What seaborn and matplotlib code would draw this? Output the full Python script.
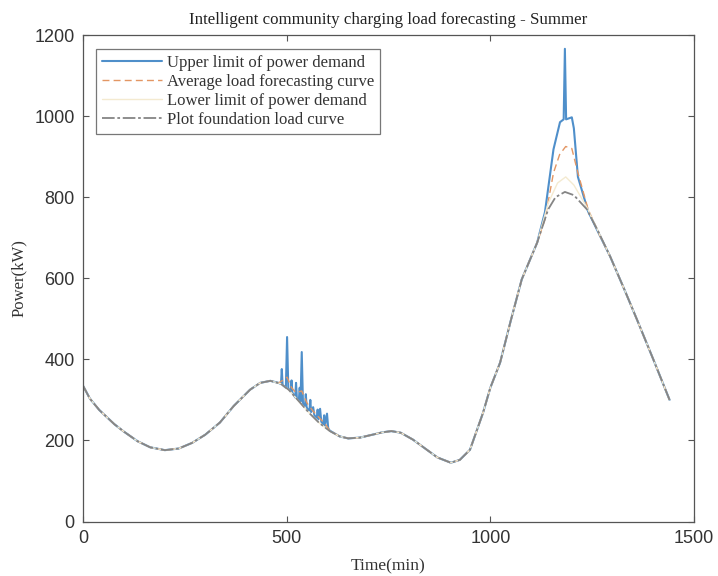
import numpy as np
import pandas as pd
import matplotlib
matplotlib.use("Agg")
import matplotlib.pyplot as plt
import seaborn as sns

# Foundation (base) load curve, minutes -> kW
base_t = [0, 17, 40, 77, 100, 134, 165, 201, 235, 268, 300, 336, 370, 385, 410,
          435, 460, 485, 505, 527, 555, 580, 606, 630, 651, 680, 710, 735, 757,
          780, 810, 840, 870, 903, 925, 950, 982, 1000, 1024, 1050, 1077, 1115,
          1142, 1160, 1183, 1205, 1237, 1265, 1294, 1330, 1360, 1400, 1420, 1440]
base_kw = [335, 303, 275, 240, 222, 198, 183, 176, 180, 194, 214, 244, 285, 300, 325,
           342, 347, 340, 325, 300, 268, 243, 223, 210, 205, 207, 214, 220, 223,
           219, 202, 180, 158, 145, 152, 177, 268, 330, 392, 495, 597, 688,
           770, 800, 813, 805, 770, 715, 654, 570, 498, 400, 350, 300]

# Upper limit of power demand where it departs from the foundation curve
upper_am_t = [480, 486, 488, 490, 498, 501, 504, 510, 512, 514, 521, 523, 525,
              530, 532, 534, 537, 540, 545, 547, 549, 551, 556, 558, 560, 565,
              568, 574, 576, 578, 582, 585, 590, 592, 594, 599, 602, 606]
upper_am_kw = [342, 339, 376, 337, 330, 455, 328, 322, 348, 318, 306, 342, 304,
               300, 330, 296, 418, 292, 286, 314, 282, 278, 274, 300, 270, 282,
               262, 256, 276, 252, 278, 246, 240, 262, 236, 266, 230, 224]
upper_pk_t = [1115, 1134, 1155, 1171, 1180, 1183, 1186, 1200, 1205, 1215,
              1240, 1269, 1294]
upper_pk_kw = [688, 763, 918, 985, 992, 1166, 992, 997, 970, 850,
               765, 705, 654]

# Average load forecast where it departs from the foundation curve
avg_am_t = [480, 490, 501, 512, 523, 537, 550, 565, 580, 595, 606]
avg_am_kw = [342, 348, 356, 330, 318, 322, 292, 272, 256, 240, 224]
avg_pk_t = [1115, 1134, 1155, 1170, 1185, 1200, 1215, 1240, 1269, 1294]
avg_pk_kw = [688, 745, 860, 905, 925, 920, 860, 770, 705, 654]

# Lower limit of power demand where it departs from the foundation curve
low_pk_t = [1115, 1142, 1165, 1185, 1205, 1237, 1265]
low_pk_kw = [688, 785, 835, 850, 830, 775, 715]


def merge(windows):
    """Foundation curve with the listed windows swapped in."""
    t = np.array(base_t, dtype=float)
    kw = np.array(base_kw, dtype=float)
    keep = np.ones(len(t), dtype=bool)
    for wt, _ in windows:
        keep &= ~((t >= wt[0]) & (t <= wt[-1]))
    tt = list(t[keep])
    kk = list(kw[keep])
    for wt, wk in windows:
        tt += list(wt)
        kk += list(wk)
    order = np.argsort(tt, kind="stable")
    return np.array(tt)[order], np.array(kk)[order]


up_t, up_kw = merge([(upper_am_t, upper_am_kw), (upper_pk_t, upper_pk_kw)])
av_t, av_kw = merge([(avg_am_t, avg_am_kw), (avg_pk_t, avg_pk_kw)])
lo_t, lo_kw = merge([(low_pk_t, low_pk_kw)])

sns.set_theme(style="ticks")
plt.rcParams["font.family"] = ["Liberation Serif", "DejaVu Serif"]
plt.rcParams["xtick.direction"] = "in"
plt.rcParams["ytick.direction"] = "in"

fig = plt.figure(figsize=(7.18, 5.76), dpi=100)
ax = fig.add_axes([0.1156, 0.0946, 0.851, 0.8446])

kw_line = dict(ax=ax, estimator=None, sort=False)
sns.lineplot(x=up_t, y=up_kw, color="#4f8fca", lw=1.5,
             label="Upper limit of power demand", **kw_line)
sns.lineplot(x=av_t, y=av_kw, color="#e39663", lw=1.0,
             label="Average load forecasting curve", **kw_line)
ax.lines[-1].set_linestyle((0, (5, 3)))
sns.lineplot(x=lo_t, y=lo_kw, color="#f4ead0", lw=1.0,
             label="Lower limit of power demand", **kw_line)
sns.lineplot(x=base_t, y=base_kw, color="#858585", lw=1.3,
             label="Plot foundation load curve", **kw_line)
ax.lines[-1].set_linestyle((0, (7, 1.5, 1.5, 1.5)))

ax.set_xlim(0, 1500)
ax.set_ylim(0, 1200)
ax.set_xticks([0, 500, 1000, 1500])
ax.set_yticks([0, 200, 400, 600, 800, 1000, 1200])
ax.tick_params(axis="both", which="both", top=True, right=True, length=4,
               width=0.8, color="#555555", labelsize=13, labelcolor="#333333", pad=6)
for lab in ax.get_xticklabels() + ax.get_yticklabels():
    lab.set_fontfamily("Liberation Sans")
for sp in ax.spines.values():
    sp.set_visible(True)
    sp.set_color("#555555")
    sp.set_linewidth(0.9)

ax.set_title("Intelligent community charging load forecasting - Summer",
             fontsize=12.2, color="#222222", pad=8)
ax.set_xlabel("Time(min)", fontsize=12.5, color="#333333", labelpad=8)
ax.set_ylabel("Power(kW)", fontsize=12, color="#333333", labelpad=5)

leg = ax.legend(loc="upper left", bbox_to_anchor=(0.021, 0.971), borderaxespad=0,
                fontsize=12, handlelength=3.6, labelspacing=0.18, handletextpad=0.3,
                borderpad=0.35, fancybox=False, frameon=True)
leg.get_frame().set_edgecolor("#555555")
leg.get_frame().set_linewidth(0.9)
for txt in leg.get_texts():
    txt.set_color("#333333")

fig.savefig("out.png", dpi=100)
